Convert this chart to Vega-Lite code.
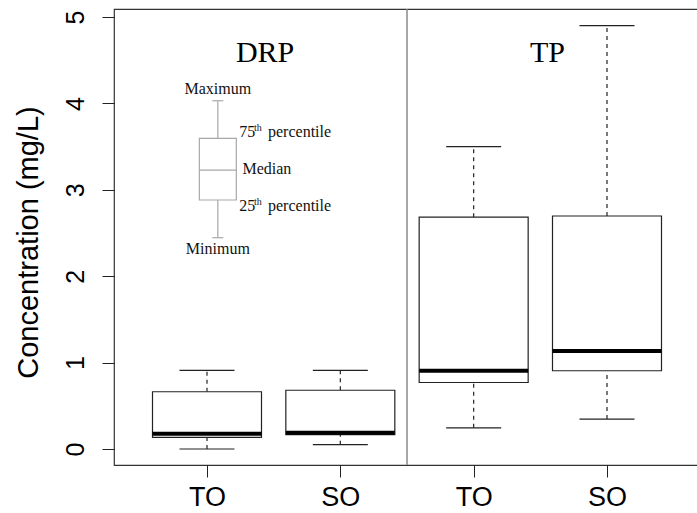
{
  "$schema": "https://vega.github.io/schema/vega-lite/v6.json",
  "width": 586,
  "height": 456,
  "autosize": {"type": "none"},
  "padding": {"left": 114, "top": 9, "right": 0, "bottom": 48},
  "background": "white",
  "config": {
    "view": {"stroke": "#333333", "strokeWidth": 1.2},
    "axis": {"grid": false, "domain": false},
    "tick": {"opacity": 1}
  },
  "datasets": {
    "boxes": [
      {"pos": 1, "lo": 0.0, "q1": 0.135, "med": 0.178, "q3": 0.663, "hi": 0.91},
      {"pos": 2, "lo": 0.05, "q1": 0.166, "med": 0.189, "q3": 0.68, "hi": 0.91},
      {"pos": 3, "lo": 0.245, "q1": 0.77, "med": 0.906, "q3": 2.683, "hi": 3.5},
      {"pos": 4, "lo": 0.347, "q1": 0.906, "med": 1.134, "q3": 2.697, "hi": 4.9}
    ],
    "keybox": [
      {"pos": 1.0812, "lo": 2.446, "q1": 2.882, "med": 3.229, "q3": 3.596, "hi": 4.031}
    ],
    "panels": [
      {"pos": 1.4354, "y": 4.479, "label": "DRP"},
      {"pos": 3.5535, "y": 4.479, "label": "TP"}
    ],
    "divider": [{"pos": 2.5}],
    "keyCenter": [
      {"pos": 1.0812, "y": 4.105, "label": "Maximum"},
      {"pos": 1.0812, "y": 2.253, "label": "Minimum"}
    ],
    "keyLeft": [
      {"pos": 1.2657, "y": 3.183, "label": "Median"},
      {"pos": 1.2413, "y": 3.616, "label": "75"},
      {"pos": 1.4576, "y": 3.616, "label": "percentile"},
      {"pos": 1.2413, "y": 2.755, "label": "25"},
      {"pos": 1.4576, "y": 2.755, "label": "percentile"}
    ],
    "keySup": [
      {"pos": 1.352, "y": 3.681, "label": "th"},
      {"pos": 1.352, "y": 2.824, "label": "th"}
    ]
  },
  "layer": [
    {
      "data": {"name": "boxes"},
      "mark": {"type": "rule", "color": "#222222", "strokeWidth": 1.2, "strokeDash": [4, 4]},
      "encoding": {
        "x": {
          "field": "pos", "type": "quantitative",
          "scale": {"domain": [0.34, 4.66], "nice": false, "zero": false},
          "axis": {
            "values": [1, 2, 3, 4],
            "labelExpr": "datum.value == 1 || datum.value == 3 ? 'TO' : 'SO'",
            "title": null,
            "tickSize": 12, "tickColor": "#222222", "tickWidth": 1,
            "labelFont": "Liberation Sans", "labelFontSize": 27, "labelColor": "#000000",
            "labelPadding": 7, "labelBaseline": "top", "labelFlush": false
          }
        },
        "y": {
          "field": "q3", "type": "quantitative",
          "scale": {"domain": [-0.185, 5.093], "nice": false, "zero": false},
          "axis": {
            "values": [0, 1, 2, 3, 4, 5],
            "format": "d",
            "title": "Concentration (mg/L)",
            "titleFont": "Liberation Sans", "titleFontSize": 29, "titleFontWeight": "normal",
            "titleColor": "#000000", "titleAngle": -90, "titleAlign": "center",
            "titleBaseline": "middle", "titleX": -86, "titleY": 233,
            "tickSize": 12, "tickColor": "#222222", "tickWidth": 1,
            "labelFont": "Liberation Sans", "labelFontSize": 25, "labelColor": "#000000",
            "labelAngle": -90, "labelAlign": "center", "labelBaseline": "bottom",
            "labelPadding": 14, "labelFlush": false
          }
        },
        "y2": {"field": "hi"}
      }
    },
    {
      "data": {"name": "divider"},
      "mark": {"type": "rule", "color": "#8a8a8a", "strokeWidth": 1.5},
      "encoding": {
        "x": {"field": "pos", "type": "quantitative"}
      }
    },
    {
      "data": {"name": "boxes"},
      "mark": {"type": "rule", "color": "#222222", "strokeWidth": 1.2, "strokeDash": [4, 4]},
      "encoding": {
        "x": {"field": "pos", "type": "quantitative"},
        "y": {"field": "lo", "type": "quantitative"},
        "y2": {"field": "q1"}
      }
    },
    {
      "data": {"name": "boxes"},
      "mark": {"type": "tick", "orient": "horizontal", "color": "#222222", "size": 55, "thickness": 1.2},
      "encoding": {
        "x": {"field": "pos", "type": "quantitative"},
        "y": {"field": "hi", "type": "quantitative"}
      }
    },
    {
      "data": {"name": "boxes"},
      "mark": {"type": "tick", "orient": "horizontal", "color": "#222222", "size": 55, "thickness": 1.2},
      "encoding": {
        "x": {"field": "pos", "type": "quantitative"},
        "y": {"field": "lo", "type": "quantitative"}
      }
    },
    {
      "data": {"name": "boxes"},
      "mark": {"type": "bar", "orient": "vertical", "size": 109, "fill": "white", "stroke": "#222222", "strokeWidth": 1.2},
      "encoding": {
        "x": {"field": "pos", "type": "quantitative"},
        "y": {"field": "q1", "type": "quantitative"},
        "y2": {"field": "q3"}
      }
    },
    {
      "data": {"name": "boxes"},
      "mark": {"type": "tick", "orient": "horizontal", "color": "#000000", "size": 109, "thickness": 4},
      "encoding": {
        "x": {"field": "pos", "type": "quantitative"},
        "y": {"field": "med", "type": "quantitative"}
      }
    },
    {
      "data": {"name": "keybox"},
      "mark": {"type": "rule", "color": "#a8a8a8", "strokeWidth": 1.2},
      "encoding": {
        "x": {"field": "pos", "type": "quantitative"},
        "y": {"field": "q3", "type": "quantitative"},
        "y2": {"field": "hi"}
      }
    },
    {
      "data": {"name": "keybox"},
      "mark": {"type": "rule", "color": "#a8a8a8", "strokeWidth": 1.2},
      "encoding": {
        "x": {"field": "pos", "type": "quantitative"},
        "y": {"field": "lo", "type": "quantitative"},
        "y2": {"field": "q1"}
      }
    },
    {
      "data": {"name": "keybox"},
      "mark": {"type": "tick", "orient": "horizontal", "color": "#a8a8a8", "size": 11, "thickness": 1.2},
      "encoding": {
        "x": {"field": "pos", "type": "quantitative"},
        "y": {"field": "hi", "type": "quantitative"}
      }
    },
    {
      "data": {"name": "keybox"},
      "mark": {"type": "tick", "orient": "horizontal", "color": "#a8a8a8", "size": 11, "thickness": 1.2},
      "encoding": {
        "x": {"field": "pos", "type": "quantitative"},
        "y": {"field": "lo", "type": "quantitative"}
      }
    },
    {
      "data": {"name": "keybox"},
      "mark": {"type": "bar", "orient": "vertical", "size": 37, "fill": "white", "stroke": "#a8a8a8", "strokeWidth": 1.2},
      "encoding": {
        "x": {"field": "pos", "type": "quantitative"},
        "y": {"field": "q1", "type": "quantitative"},
        "y2": {"field": "q3"}
      }
    },
    {
      "data": {"name": "keybox"},
      "mark": {"type": "tick", "orient": "horizontal", "color": "#a8a8a8", "size": 37, "thickness": 1.2},
      "encoding": {
        "x": {"field": "pos", "type": "quantitative"},
        "y": {"field": "med", "type": "quantitative"}
      }
    },
    {
      "data": {"name": "panels"},
      "mark": {"type": "text", "font": "Liberation Serif", "fontSize": 30, "color": "#000000", "align": "center", "baseline": "alphabetic"},
      "encoding": {
        "x": {"field": "pos", "type": "quantitative"},
        "y": {"field": "y", "type": "quantitative"},
        "text": {"field": "label"}
      }
    },
    {
      "data": {"name": "keyCenter"},
      "mark": {"type": "text", "font": "Liberation Serif", "fontSize": 16, "color": "#111111", "align": "center", "baseline": "alphabetic"},
      "encoding": {
        "x": {"field": "pos", "type": "quantitative"},
        "y": {"field": "y", "type": "quantitative"},
        "text": {"field": "label"}
      }
    },
    {
      "data": {"name": "keyLeft"},
      "mark": {"type": "text", "font": "Liberation Serif", "fontSize": 16, "color": "#111111", "align": "left", "baseline": "alphabetic"},
      "encoding": {
        "x": {"field": "pos", "type": "quantitative"},
        "y": {"field": "y", "type": "quantitative"},
        "text": {"field": "label"}
      }
    },
    {
      "data": {"name": "keySup"},
      "mark": {"type": "text", "font": "Liberation Serif", "fontSize": 10, "color": "#111111", "align": "left", "baseline": "alphabetic"},
      "encoding": {
        "x": {"field": "pos", "type": "quantitative"},
        "y": {"field": "y", "type": "quantitative"},
        "text": {"field": "label"}
      }
    }
  ]
}
